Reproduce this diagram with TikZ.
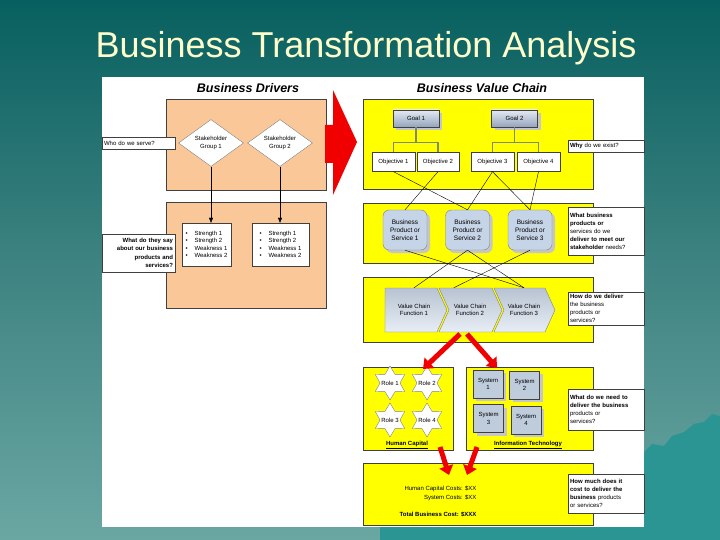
\documentclass[tikz,border=0pt]{standalone}
\usepackage{fontspec}
\setmainfont{Liberation Sans}
\usetikzlibrary{shapes.geometric,arrows.meta,shadows}

\definecolor{tealtop}{HTML}{07605F}
\definecolor{tealmid}{HTML}{3F8482}
\definecolor{tealbot}{HTML}{6AA7A3}
\definecolor{berg}{HTML}{2A9592}
\definecolor{titleyellow}{HTML}{FFFFCC}
\definecolor{peach}{HTML}{FAC898}
\definecolor{vcyellow}{HTML}{FFFF00}
\definecolor{boxline}{HTML}{404040}
\definecolor{goaltop}{HTML}{E4EAF2}
\definecolor{goalbot}{HTML}{94A4BE}
\definecolor{prodblue}{HTML}{C5D4E6}
\definecolor{treeline}{HTML}{7C8C6C}
\definecolor{arrowred}{HTML}{F00000}

\begin{document}
\begin{tikzpicture}[x=1pt,y=-1pt,
  lbl/.style={font=\fontsize{6}{7.5}\selectfont},
  panel/.style={draw=boxline,line width=0.8pt,inner sep=0pt},
  drvbox/.style={panel,fill=peach},
  vcbox/.style={panel,fill=vcyellow},
  qbox/.style={draw=boxline,fill=white,font=\fontsize{6}{8}\selectfont,inner sep=2pt,align=left,text width=72pt},
  heading/.style={font=\bfseries\itshape\fontsize{12.5}{14}\selectfont},
  diam/.style={diamond,draw=gray,fill=white,lbl,align=center,inner sep=0pt,minimum width=65pt,minimum height=47pt},
  bullets/.style={draw=boxline,fill=white,lbl,align=left,inner sep=0pt,minimum height=43pt},
  goal/.style={draw=boxline,top color=goaltop,bottom color=goalbot,lbl,inner sep=0pt,minimum width=46pt,minimum height=17pt,
    drop shadow={shadow xshift=3pt,shadow yshift=-3pt,fill=gray!45,opacity=1}},
  obj/.style={draw=boxline,fill=white,lbl,inner sep=0pt,minimum height=19pt},
  prod/.style={draw=gray,fill=prodblue,rounded corners=6pt,font=\fontsize{6.5}{8}\selectfont,align=center,inner sep=0pt,minimum width=44pt,minimum height=40pt,
    drop shadow={shadow xshift=3pt,shadow yshift=-3pt,fill=gray!45,opacity=1}},
  role/.style={star,star points=6,star point ratio=1.7,draw=gray,fill=white,inner sep=0pt,minimum size=34pt},
  sys/.style={draw=boxline,fill=prodblue!90!gray,lbl,align=center,inner sep=0pt,minimum width=30pt,minimum height=28pt,
    drop shadow={shadow xshift=3pt,shadow yshift=-3pt,fill=gray!45,opacity=1}},
  tree/.style={draw=treeline,line width=1.5pt},
  redarrow/.style={draw=arrowred,line width=5pt,-{Triangle[width=14pt,length=9pt]}}]
\useasboundingbox (0,0) rectangle (720,540);

% background
\shade[top color=tealtop,bottom color=tealbot,middle color=tealmid] (0,0) rectangle (720,540);
\fill[berg] (644,452) -- (652,444) -- (664,446) -- (672,436) -- (684,432) -- (694,424) -- (704,422)
  -- (712,414) -- (720,416) -- (720,540) -- (380,540) -- (380,527) -- (644,527) -- cycle;
\node[font=\fontsize{36}{40}\selectfont,text=titleyellow,anchor=base] (title) at (366,58) {Business Transformation Analysis};
\fill[white] (102,77) rectangle (644,527);

% business drivers
\node[heading] (drvtitle) at (248,88) {Business Drivers};
\node[drvbox,minimum width=160pt,minimum height=91pt] (drvtop) at (246,144.5) {};
\node[drvbox,minimum width=160pt,minimum height=106pt] (drvbot) at (246,255) {};
\fill[arrowred] (325,125) -- (333,125) -- (333,90) -- (357,142) -- (333,195) -- (333,163) -- (325,163) -- cycle;

\node[diam] (sg1) at (211,143) {Stakeholder\\Group 1};
\node[diam] (sg2) at (280,143) {Stakeholder\\Group 2};
\node[bullets,minimum width=49pt] (b1) at (206.5,244.5) {\makebox[9pt][l]{\textbullet}Strength 1\\\makebox[9pt][l]{\textbullet}Strength 2\\\makebox[9pt][l]{\textbullet}Weakness 1\\\makebox[9pt][l]{\textbullet}Weakness 2};
\node[bullets,minimum width=57pt] (b2) at (280.5,244.5) {\makebox[9pt][l]{\textbullet}Strength 1\\\makebox[9pt][l]{\textbullet}Strength 2\\\makebox[9pt][l]{\textbullet}Weakness 1\\\makebox[9pt][l]{\textbullet}Weakness 2};
\draw[-{Triangle[width=4pt,length=5pt]}] (sg1.south) -- (sg1.south |- b1.north);
\draw[-{Triangle[width=4pt,length=5pt]}] (sg2.south) -- (sg2.south |- b2.north);

\node[qbox,text width=69pt,minimum height=12pt] (q1) at (138.5,143) {Who do we serve?};
\node[qbox,text width=69pt,minimum height=38pt,align=right,font=\bfseries\fontsize{6}{8.5}\selectfont] (q2) at (138.5,253)
  {What do they say\\about our business\\products and\\services?};

% business value chain
\node[heading] (vctitle) at (482,88) {Business Value Chain};
\node[vcbox,minimum width=230pt,minimum height=90pt] (vc1) at (478,144) {};
\node[vcbox,minimum width=230pt,minimum height=60pt] (vc2) at (478,233) {};
\node[vcbox,minimum width=230pt,minimum height=65pt] (vc3) at (478,309.5) {};
\node[vcbox,minimum width=90pt,minimum height=83pt] (hc) at (408,408.5) {};
\node[vcbox,minimum width=127pt,minimum height=83pt] (it) at (529.5,408.5) {};
\node[vcbox,minimum width=230pt,minimum height=62pt] (cost) at (478,494) {};

\node[goal] (g1) at (416,118.5) {Goal 1};
\node[goal] (g2) at (514.5,118.5) {Goal 2};
\node[obj,minimum width=43pt] (o1) at (393.5,162) {Objective 1};
\node[obj,minimum width=42pt] (o2) at (438,162) {Objective 2};
\node[obj,minimum width=43pt] (o3) at (492.5,162) {Objective 3};
\node[obj,minimum width=43pt] (o4) at (538.5,162) {Objective 4};
\draw[tree] (g1.south) -- (g1.south |- 0,142);
\draw[tree] (o1.north) -- ++(0,-10) -| (o2.north);
\draw[tree] (g2.south) -- (g2.south |- 0,142);
\draw[tree] (o3.north) -- ++(0,-10) -| (o4.north);

\node[prod] (p1) at (405,230) {Business\\Product or\\Service 1};
\node[prod] (p2) at (467.5,230) {Business\\Product or\\Service 2};
\node[prod] (p3) at (530,230) {Business\\Product or\\Service 3};
\draw (o1.south) -- (p2.north);
\draw (o2.south) -- (p1.north);
\draw (o3.south) -- (p2.north);
\draw (o3.south) -- (p3.north);
\draw (o4.south) -- (p3.north);

\shadedraw[draw=gray,top color=prodblue!80!gray,bottom color=prodblue!40] (385,288) -- (437,288) -- (447,310) -- (437,332) -- (385,332) -- cycle;
\shadedraw[draw=gray,top color=prodblue!80!gray,bottom color=prodblue!40] (439,288) -- (492,288) -- (502,310) -- (492,332) -- (439,332) -- (449,310) -- cycle;
\shadedraw[draw=gray,top color=prodblue!80!gray,bottom color=prodblue!40] (494,288) -- (545,288) -- (555,310) -- (545,332) -- (494,332) -- (504,310) -- cycle;
\node[lbl,align=center,minimum height=44pt,inner sep=0pt] (f1) at (414,310) {Value Chain\\Function 1};
\node[lbl,align=center,minimum height=44pt,inner sep=0pt] (f2) at (470,310) {Value Chain\\Function 2};
\node[lbl,align=center,minimum height=44pt,inner sep=0pt] (f3) at (524,310) {Value Chain\\Function 3};
\draw (p1.south) -- (f3.north);
\draw (p2.south) -- (f1.north);
\draw (p2.south) -- (f3.north);
\draw (p3.south) -- (f2.north west);

% capital and systems
\node[role,label={[lbl]center:Role 1}] (r1) at (390,383) {};
\node[role,label={[lbl]center:Role 2}] (r2) at (427,383) {};
\node[role,label={[lbl]center:Role 3}] (r3) at (390,420) {};
\node[role,label={[lbl]center:Role 4}] (r4) at (427,420) {};
\node[lbl,font=\bfseries\fontsize{6}{7.5}\selectfont] (hclabel) at (407,445) {\underline{Human Capital}};
\node[sys] (s1) at (488,384) {System\\1};
\node[sys] (s2) at (524.5,385) {System\\2};
\node[sys] (s3) at (488.5,418.5) {System\\3};
\node[sys] (s4) at (526,420) {System\\4};
\node[lbl,font=\bfseries\fontsize{6}{7.5}\selectfont] (itlabel) at (528,445) {\underline{Information Technology}};

\node[lbl,anchor=east] (hccost) at (480,489) {Human Capital Costs: \$XX};
\node[lbl,anchor=east] (syscost) at (480,498) {System Costs: \$XX};
\node[lbl,anchor=east,font=\bfseries\fontsize{6}{7.5}\selectfont] (totcost) at (480,514) {Total Business Cost: \$XXX};

% red arrows
\coordinate (a1) at (460,334);
\coordinate (a2) at (467,334);
\coordinate (a3) at (440,447);
\coordinate (a4) at (477,447);
\draw[redarrow] (a1) -- (423,369);
\draw[redarrow] (a2) -- (497,368);
\draw[redarrow] (a3) -- (449,475);
\draw[redarrow] (a4) -- (467,475);

% questions
\node[qbox,minimum height=12pt] (q3) at (606,146) {\textbf{Why} do we exist?};
\node[qbox,minimum height=48pt] (q4) at (606,231) {\textbf{What business}\\\textbf{products or}\\services do we\\\textbf{deliver to meet our}\\\textbf{stakeholder} needs?};
\node[qbox,minimum height=33pt] (q5) at (606,308.5) {\textbf{How do we deliver}\\the business\\products or\\services?};
\node[qbox,minimum height=41pt] (q6) at (606,409.5) {\textbf{What do we need to}\\\textbf{deliver the business}\\products or\\services?};
\node[qbox,minimum height=39pt] (q7) at (606,493.5) {\textbf{How much does it}\\\textbf{cost to deliver the}\\\textbf{business} products\\or services?};
\end{tikzpicture}
\end{document}
